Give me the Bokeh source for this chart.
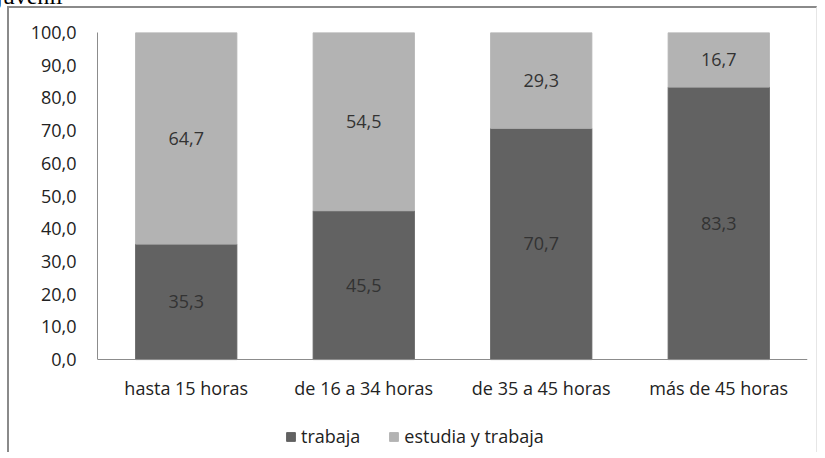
from bokeh.plotting import figure
from bokeh.models import ColumnDataSource, Legend, LegendItem, LabelSet, Div, SingleIntervalTicker, CustomJSTickFormatter
from bokeh.core.properties import value
from bokeh.layouts import column
from bokeh.embed import file_html
from bokeh.resources import INLINE

categories = ["hasta 15 horas", "de 16 a 34 horas", "de 35 a 45 horas", "más de 45 horas"]
trabaja = [35.3, 45.5, 70.7, 83.3]
estudia_y_trabaja = [64.7, 54.5, 29.3, 16.7]
series_names = ["trabaja", "estudia y trabaja"]
colors = ["#626262", "#b3b3b3"]
FONT = "Open Sans"
FS = "18px"

src = ColumnDataSource(dict(
    cat=categories,
    v1=trabaja,
    v2=estudia_y_trabaja,
    zero=[0] * len(categories),
    base2=trabaja,
    top2=[a + b for a, b in zip(trabaja, estudia_y_trabaja)],
    mid1=[a / 2 for a in trabaja],
    mid2=[a + b / 2 for a, b in zip(trabaja, estudia_y_trabaja)],
    lab1=[f"{v:.1f}".replace(".", ",") for v in trabaja],
    lab2=[f"{v:.1f}".replace(".", ",") for v in estudia_y_trabaja],
))

p = figure(x_range=categories, y_range=(-27.8, 100), width=810, height=446,
           output_backend="svg", toolbar_location=None,
           min_border_left=88, min_border_right=12, min_border_top=24, min_border_bottom=4)
p.styles = {"border-top": "2px solid #8a8a8a", "border-left": "2px solid #8a8a8a",
            "border-right": "1px solid #e6e6e6", "margin-left": "7px"}

r1 = p.vbar(x="cat", bottom="zero", top="v1", width=0.57, color=colors[0], source=src)
r2 = p.vbar(x="cat", bottom="base2", top="top2", width=0.57, color=colors[1], source=src)

for ycol, tcol in (("mid1", "lab1"), ("mid2", "lab2")):
    p.add_layout(LabelSet(x="cat", y=ycol, text=tcol, source=src, text_align="center",
                          text_baseline="middle", text_font=value(FONT), text_font_size=value(FS),
                          text_color="#333333"))

# category labels under the axis line
p.add_layout(LabelSet(x="cat", y="zero", text="cat", source=src, text_align="center",
                      text_baseline="middle", y_offset=-28, text_font=value(FONT),
                      text_font_size=value(FS), text_color="#222222"))

p.xgrid.grid_line_color = None
p.ygrid.grid_line_color = None
p.outline_line_color = None

p.yaxis.ticker = SingleIntervalTicker(interval=10)
p.yaxis.bounds = (0, 100)
p.yaxis.formatter = CustomJSTickFormatter(code="return tick.toFixed(1).replace('.', ',');")
for ax in (p.xaxis, p.yaxis):
    ax.axis_line_color = "#8c8c8c"
    ax.major_tick_line_color = None
    ax.minor_tick_line_color = None
    ax.major_label_text_font = FONT
    ax.major_label_text_color = "#222222"
p.yaxis.major_label_text_font_size = FS
p.yaxis.major_label_standoff = 15
p.xaxis.fixed_location = 0
p.xaxis.major_label_text_font_size = "0px"
p.xaxis.major_label_standoff = 0

legend = Legend(items=[LegendItem(label=value(series_names[0]), renderers=[r1]),
                       LegendItem(label=value(series_names[1]), renderers=[r2])],
                orientation="horizontal", location=(188, 2),
                glyph_width=11, glyph_height=11, label_text_font=FONT,
                label_text_font_size=FS, label_text_color="#222222",
                border_line_color=None, background_fill_alpha=0,
                spacing=28, label_standoff=5, padding=0, margin=0)
p.add_layout(legend, "center")

title = Div(text="juvenil", width=120, height=9,
            styles={"margin-top": "-8px", "margin-left": "-4px", "font-family": "Liberation Serif",
                    "font-size": "24px", "line-height": "9px", "color": "#000",
                    "overflow": "visible"})

layout = column(title, p, spacing=0)
open("out.html", "w").write(file_html(layout, INLINE))
